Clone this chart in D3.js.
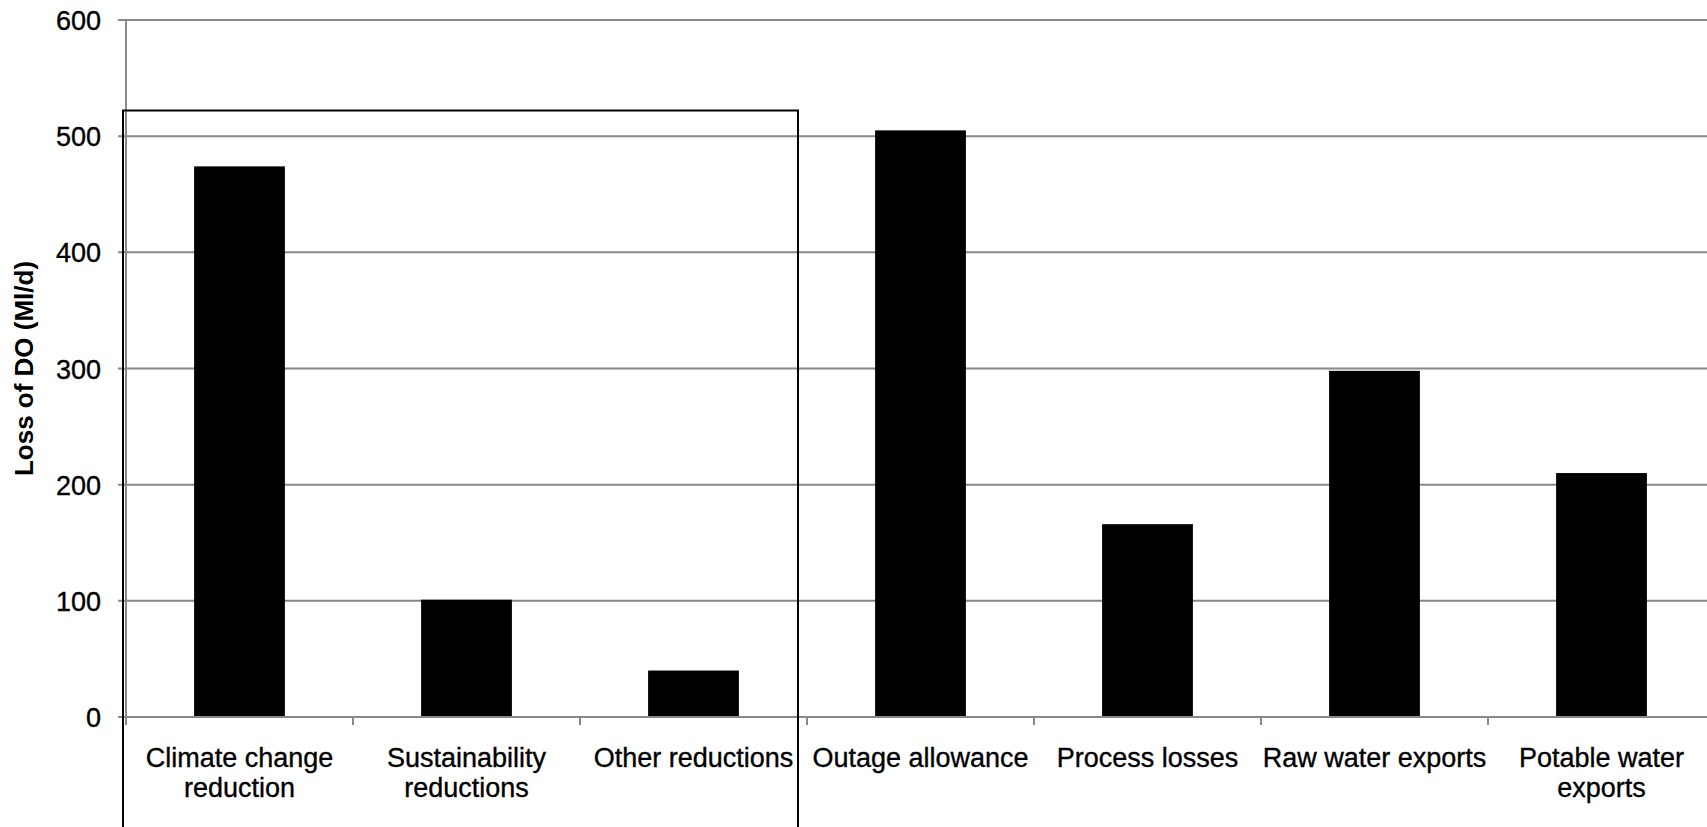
<!DOCTYPE html>
<html>
<head>
<meta charset="utf-8">
<script src="https://cdn.jsdelivr.net/npm/d3@7"></script>
<style>
  html, body { margin: 0; padding: 0; background: #fff; overflow: hidden; }
  svg { display: block; font-family: "Liberation Sans", Arial, sans-serif; }
  .lbl { stroke: #000; stroke-width: 0.35px; }
</style>
</head>
<body>
<svg id="chart" width="1707" height="827"></svg>
<script>
// Loss of deployable output by component (Ml/d)
const categories = [
  "Climate change\nreduction",
  "Sustainability\nreductions",
  "Other reductions",
  "Outage allowance",
  "Process losses",
  "Raw water exports",
  "Potable water\nexports"
];
const values = [474, 101, 40, 505, 166, 298, 210];
const yTicks = [0, 100, 200, 300, 400, 500, 600];
const yTitle = "Loss of DO (Ml/d)";
// the first three categories are grouped together by a frame
const groupedCount = 3;

const W = 1707, H = 827;
const plot = { left: 126, top: 20, bottom: 717, step: 227 };
plot.right = plot.left + plot.step * categories.length;

const grid = "#888888";
const svg = d3.select("#chart");

const x = d3.scaleBand()
  .domain(categories)
  .range([plot.left, plot.right])
  .paddingInner(0.6)
  .paddingOuter(0.3);

const y = d3.scaleLinear()
  .domain([0, 600])
  .range([plot.bottom, plot.top]);

// horizontal gridlines (including the small outer tick on the left)
svg.append("g")
  .selectAll("line")
  .data(yTicks)
  .join("line")
  .attr("x1", plot.left - 8)
  .attr("x2", plot.right)
  .attr("y1", d => y(d))
  .attr("y2", d => y(d))
  .attr("stroke", grid)
  .attr("stroke-width", 2);

// y tick labels
svg.append("g")
  .selectAll("text")
  .data(yTicks)
  .join("text")
  .attr("class", "lbl")
  .attr("x", 101)
  .attr("y", d => y(d) + 10)
  .attr("text-anchor", "end")
  .attr("font-size", 27)
  .attr("fill", "#000")
  .text(d => d);

// bars
svg.append("g")
  .selectAll("rect")
  .data(values)
  .join("rect")
  .attr("x", (d, i) => x(categories[i]))
  .attr("width", x.bandwidth())
  .attr("y", d => y(d))
  .attr("height", d => y(0) - y(d))
  .attr("fill", "#000");

// y axis line
svg.append("line")
  .attr("x1", plot.left).attr("x2", plot.left)
  .attr("y1", y(600)).attr("y2", y(0) + 8)
  .attr("stroke", grid).attr("stroke-width", 2);

// x axis line and category boundary ticks
svg.append("line")
  .attr("x1", plot.left).attr("x2", plot.right)
  .attr("y1", y(0)).attr("y2", y(0))
  .attr("stroke", grid).attr("stroke-width", 2);

const boundaries = d3.range(categories.length + 1).map(i => plot.left + i * x.step());
svg.append("g")
  .selectAll("line")
  .data(boundaries)
  .join("line")
  .attr("x1", d => d).attr("x2", d => d)
  .attr("y1", y(0)).attr("y2", y(0) + 8)
  .attr("stroke", grid).attr("stroke-width", 2);

// category labels
const labels = svg.append("g")
  .selectAll("text")
  .data(categories)
  .join("text")
  .attr("class", "lbl")
  .attr("text-anchor", "middle")
  .attr("font-size", 27)
  .attr("fill", "#000")
  .attr("transform", d => `translate(${x(d) + x.bandwidth() / 2},${y(0) + 50})`);
labels.selectAll("tspan")
  .data(d => d.split("\n"))
  .join("tspan")
  .attr("x", 0)
  .attr("dy", (d, i) => i === 0 ? 0 : 30)
  .text(d => d);

// y axis title
svg.append("text")
  .attr("transform", `translate(33,${(y(0) + y(600)) / 2}) rotate(-90)`)
  .attr("text-anchor", "middle")
  .attr("font-size", 26)
  .attr("font-weight", "bold")
  .attr("fill", "#000")
  .text(yTitle);

// frame around the first group of categories
const frameLeft = plot.left - 3;
const frameRight = boundaries[groupedCount] - 9;
const frameTop = y(522);
svg.append("path")
  .attr("d", `M${frameLeft},${H + 5} V${frameTop} H${frameRight} V${H + 5}`)
  .attr("fill", "none")
  .attr("stroke", "#000")
  .attr("stroke-width", 2);
</script>
</body>
</html>
